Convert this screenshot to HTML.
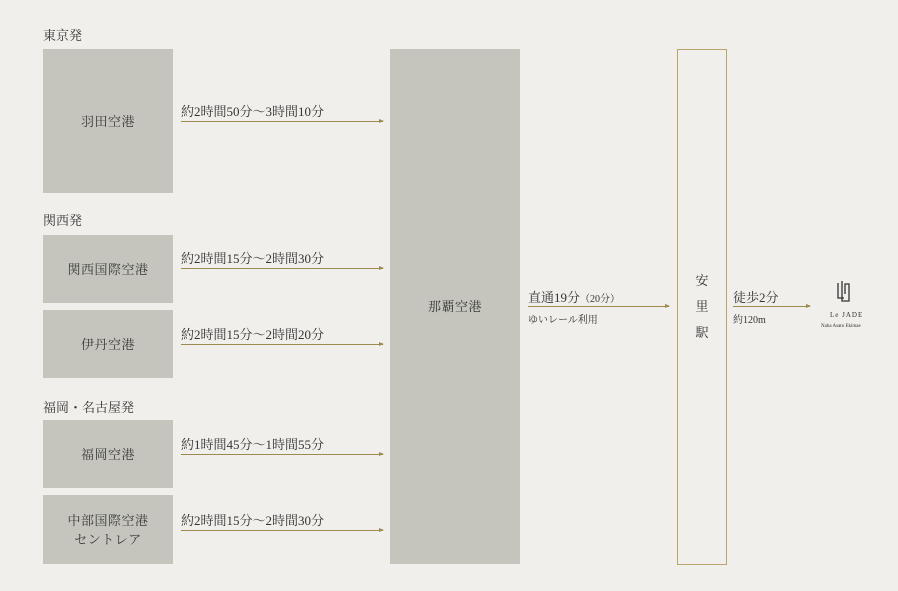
<!DOCTYPE html>
<html><head><meta charset="utf-8"><style>
body{margin:0;width:898px;height:591px;background:#f0efeb;position:relative;overflow:hidden;font-family:"Liberation Serif","Noto Serif CJK SC","Noto Sans CJK JP",serif;color:#333}
.a{position:absolute}
.box{position:absolute;background:#c5c5bd;display:flex;align-items:center;justify-content:center;text-align:center;font-size:13px;color:#3a3a3a;line-height:19px;letter-spacing:0.5px}
.lab{position:absolute;font-size:13px;color:#333;white-space:nowrap}
.ln{position:absolute;height:1px;background:#9c8a4e}
.ln:after{content:"";position:absolute;right:-1px;top:-2px;border-left:5px solid #9c8a4e;border-top:2.5px solid transparent;border-bottom:2.5px solid transparent}
</style></head><body>
<div class="lab" style="left:43px;top:25px">東京発</div>
<div class="lab" style="left:43px;top:210px">関西発</div>
<div class="lab" style="left:43px;top:397px">福岡・名古屋発</div>

<div class="box" style="left:43px;top:49px;width:130px;height:144px">羽田空港</div>
<div class="box" style="left:43px;top:235px;width:130px;height:68px">関西国際空港</div>
<div class="box" style="left:43px;top:310px;width:130px;height:68px">伊丹空港</div>
<div class="box" style="left:43px;top:420px;width:130px;height:68px">福岡空港</div>
<div class="box" style="left:43px;top:495px;width:130px;height:69px">中部国際空港<br>セントレア</div>

<div class="box" style="left:390px;top:49px;width:130px;height:515px">那覇空港</div>
<div class="a" style="left:677px;top:49px;width:48px;height:514px;border:1px solid #b9a46a;display:flex;flex-direction:column;align-items:center;justify-content:center;font-size:13px;line-height:26px">安<br>里<br>駅</div>

<div class="lab" style="left:181px;top:101px">約2時間50分～3時間10分</div><div class="ln" style="left:181px;top:121px;width:202px"></div>
<div class="lab" style="left:181px;top:248px">約2時間15分～2時間30分</div><div class="ln" style="left:181px;top:268px;width:202px"></div>
<div class="lab" style="left:181px;top:324px">約2時間15分～2時間20分</div><div class="ln" style="left:181px;top:344px;width:202px"></div>
<div class="lab" style="left:181px;top:434px">約1時間45分～1時間55分</div><div class="ln" style="left:181px;top:454px;width:202px"></div>
<div class="lab" style="left:181px;top:510px">約2時間15分～2時間30分</div><div class="ln" style="left:181px;top:530px;width:202px"></div>

<div class="lab" style="left:528px;top:287px">直通19分<span style="font-size:10px">（20分）</span></div>
<div class="ln" style="left:528px;top:306px;width:141px"></div>
<div class="lab" style="left:528px;top:311px;font-size:10px">ゆいレール利用</div>

<div class="lab" style="left:733px;top:287px">徒歩2分</div>
<div class="ln" style="left:733px;top:306px;width:77px"></div>
<div class="lab" style="left:733px;top:311px;font-size:10px">約120m</div>

<svg class="a" style="left:836px;top:280px" width="16" height="24" viewBox="0 0 16 24"><path d="M2 3V18H8M6 1V21H13V4H9V14" fill="none" stroke="#333" stroke-width="1.3"/></svg>
<div class="lab" style="left:830px;top:311px;font-size:7px;letter-spacing:1px">Le JADE</div>
<div class="lab" style="left:821px;top:324px;font-size:5px">Naha Asato Ekimae</div>
</body></html>
